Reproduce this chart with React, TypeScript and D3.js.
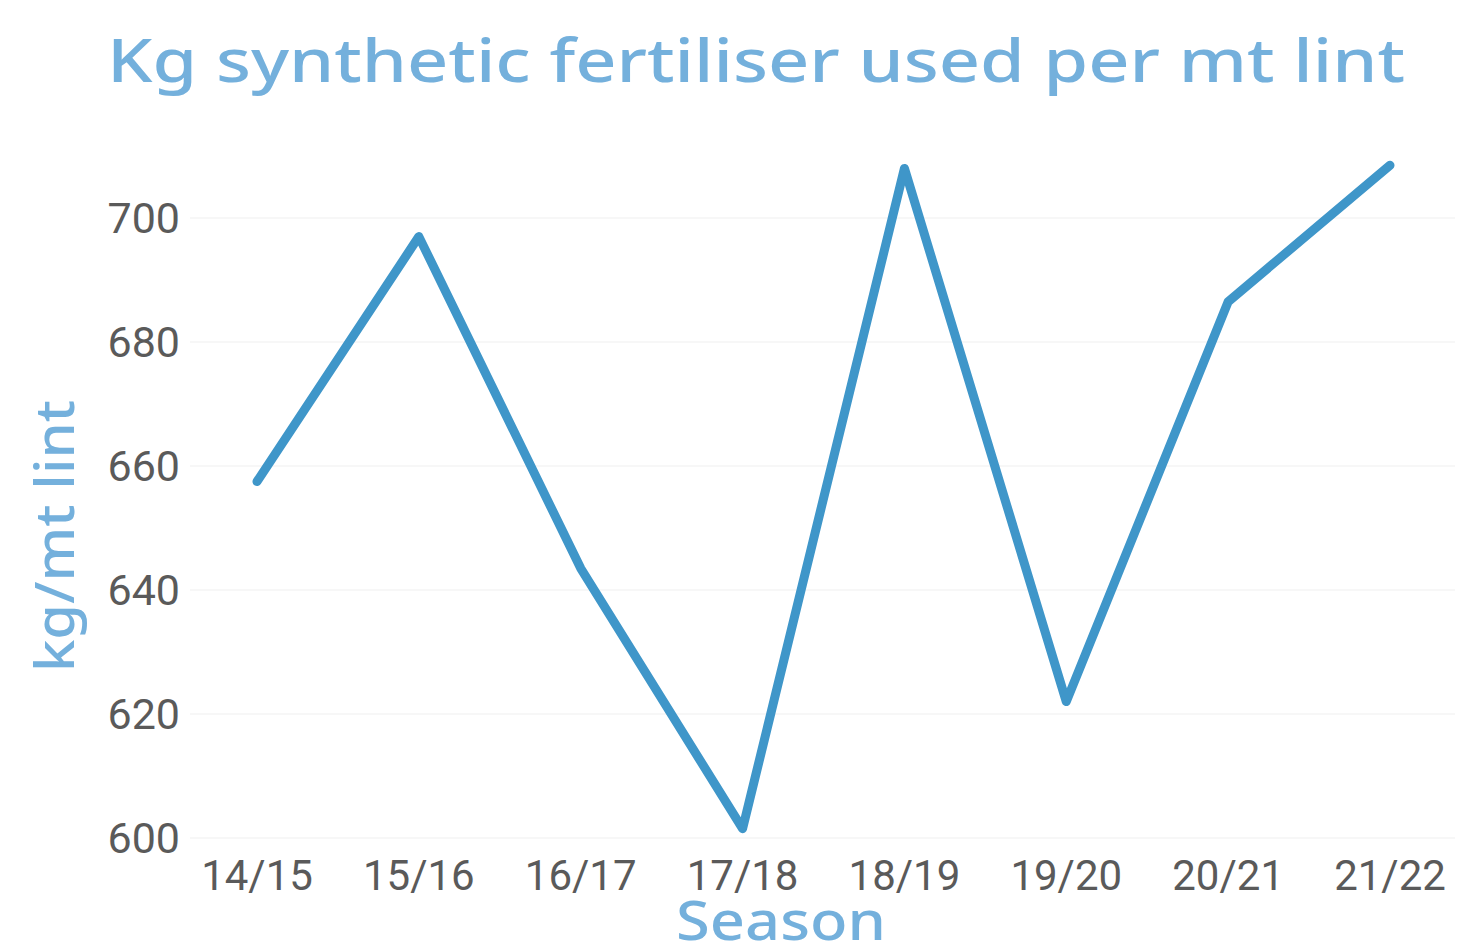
import React from "react";
import * as d3 from "d3";

const seasons = ["14/15", "15/16", "16/17", "17/18", "18/19", "19/20", "20/21", "21/22"];
const values = [657.5, 697, 643.5, 601.5, 708, 622, 686.5, 708.5];
const yTicks = [600, 620, 640, 660, 680, 700];

const W = 1459;
const H = 952;

export default function App() {
  const x = d3.scalePoint<string>().domain(seasons).range([257, 1390]);
  const y = d3.scaleLinear().domain([600, 700]).range([838, 218]);
  const line = d3
    .line<number>()
    .x((_, i) => x(seasons[i]) as number)
    .y((d) => y(d));

  return (
    <svg
      width={W}
      height={H}
      style={{ position: "absolute", left: 0, top: 0, background: "#fff" }}
    >
      <text
        x={756}
        y={82}
        textAnchor="middle"
        fill="#74b0dc"
        fontFamily="'Noto Sans', sans-serif"
        fontWeight={500}
        fontSize={60}
        textLength={1298}
        lengthAdjust="spacingAndGlyphs"
      >
        Kg synthetic fertiliser used per mt lint
      </text>
      {yTicks.map((t) => (
        <g key={t}>
          <line x1={190} x2={1455} y1={y(t)} y2={y(t)} stroke="#f5f5f5" strokeWidth={1.5} />
          <text
            x={180}
            y={y(t)}
            dy="0.36em"
            textAnchor="end"
            fill="#5a5a5a"
            fontFamily="Roboto, sans-serif"
            fontSize={43}
          >
            {t}
          </text>
        </g>
      ))}
      {seasons.map((s) => (
        <text
          key={s}
          x={x(s) as number}
          y={890}
          textAnchor="middle"
          fill="#5a5a5a"
          fontFamily="Roboto, sans-serif"
          fontSize={42}
        >
          {s}
        </text>
      ))}
      <path
        d={line(values) || ""}
        fill="none"
        stroke="#3f96c9"
        strokeWidth={9}
        strokeLinejoin="round"
        strokeLinecap="round"
      />
      <text
        x={781}
        y={940}
        textAnchor="middle"
        fill="#74b0dc"
        fontFamily="'Noto Sans', sans-serif"
        fontWeight={500}
        fontSize={54}
        textLength={210}
        lengthAdjust="spacingAndGlyphs"
      >
        Season
      </text>
      <text
        transform={`translate(74,536) rotate(-90)`}
        textAnchor="middle"
        fill="#74b0dc"
        fontFamily="'Noto Sans', sans-serif"
        fontWeight={500}
        fontSize={54}
        textLength={272}
        lengthAdjust="spacingAndGlyphs"
      >
        kg/mt lint
      </text>
    </svg>
  );
}
